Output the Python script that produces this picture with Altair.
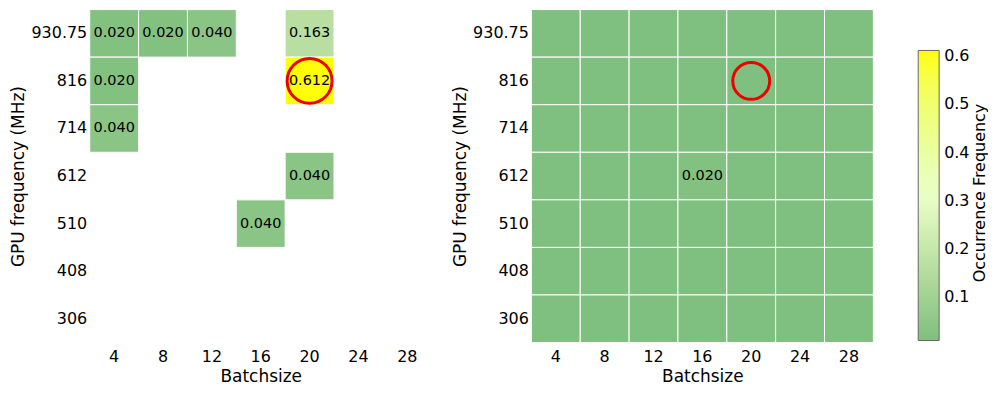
import altair as alt
import pandas as pd

FONT = "DejaVu Sans"

batch = [4, 8, 12, 16, 20, 24, 28]
freqs = ["930.75", "816", "714", "612", "510", "408", "306"]

# left panel: only the non-zero cells
left_batch = [4, 8, 12, 20, 4, 20, 4, 20, 16]
left_freq = ["930.75", "930.75", "930.75", "930.75", "816", "816", "714", "612", "510"]
left_val = [0.020, 0.020, 0.040, 0.163, 0.020, 0.612, 0.040, 0.040, 0.040]

# right panel: full grid, rows follow `freqs`, columns follow `batch`
right_rows = [
    [0, 0, 0, 0, 0, 0, 0],
    [0, 0, 0, 0, 0, 0, 0],
    [0, 0, 0, 0, 0, 0, 0],
    [0, 0, 0, 0.020, 0, 0, 0],
    [0, 0, 0, 0, 0, 0, 0],
    [0, 0, 0, 0, 0, 0, 0],
    [0, 0, 0, 0, 0, 0, 0],
]

marked_batch = [20]
marked_freq = ["816"]

legend_ticks = [0.1, 0.2, 0.3, 0.4, 0.5, 0.6]
color_domain = [0.01, 0.311, 0.612]
color_range = ["#7fbf7f", "#ebffc8", "#ffff00"]

W, H = 343, 334

left_df = pd.DataFrame({"b": left_batch, "f": left_freq, "v": left_val})
right_df = pd.DataFrame(
    [{"b": b, "f": f, "v": right_rows[i][j]} for i, f in enumerate(freqs) for j, b in enumerate(batch)]
)
mark_df = pd.DataFrame({"b": marked_batch, "f": marked_freq})
cbar_title = pd.DataFrame({"t": ["Occurrence Frequency"]})

xenc = alt.X("b:O", scale=alt.Scale(domain=batch), title="Batchsize",
             axis=alt.Axis(labelAngle=0, labelPadding=6, titlePadding=4))
yenc = alt.Y("f:O", scale=alt.Scale(domain=freqs), title="GPU frequency (MHz)",
             axis=alt.Axis(labelPadding=3, titlePadding=3))
color = alt.Color(
    "v:Q",
    scale=alt.Scale(domain=color_domain, range=color_range, clamp=True),
    legend=alt.Legend(
        title=None, orient="none", legendX=831, legendY=41,
        gradientLength=291, gradientThickness=21, values=legend_ticks,
        format=".1f", labelFontSize=16, labelFont=FONT, labelOffset=5,
        gradientStrokeColor="#666666", gradientStrokeWidth=1,
    ),
)


def panel(df, circle_size, extra=None):
    rect = alt.Chart(df).mark_rect(stroke="white", strokeWidth=1).encode(x=xenc, y=yenc, color=color)
    txt = (
        alt.Chart(df)
        .transform_filter("datum.v > 0")
        .mark_text(fontSize=14.5, font=FONT, color="black")
        .encode(x=xenc, y=yenc, text=alt.Text("v:Q", format=".3f"))
    )
    ring = alt.Chart(mark_df).mark_point(
        shape="circle", filled=False, stroke="#ee0000", strokeWidth=3, size=circle_size, opacity=1
    ).encode(x=xenc, y=yenc)
    layers = [rect, txt, ring]
    if extra is not None:
        layers.append(extra)
    return alt.layer(*layers).properties(width=W, height=H)


title_txt = alt.Chart(cbar_title).mark_text(
    angle=270, fontSize=16, font=FONT, color="black", align="center", baseline="middle"
).encode(x=alt.value(450), y=alt.value(184), text="t:N")

left = panel(left_df, 2025)
right = panel(right_df, 1369, title_txt)

chart = (
    alt.hconcat(left, right, spacing=20)
    .resolve_scale(color="shared")
    .properties(padding={"left": 2, "top": 0, "right": 0, "bottom": 0})
    .configure_view(stroke=None)
    .configure_axis(
        labelFont=FONT, titleFont=FONT, labelFontSize=16, titleFontSize=17,
        titleFontWeight="normal", ticks=False, domain=False, grid=False,
        labelColor="black", titleColor="black",
    )
)

chart.save("out.html", embed_options={"renderer": "svg", "actions": False})
